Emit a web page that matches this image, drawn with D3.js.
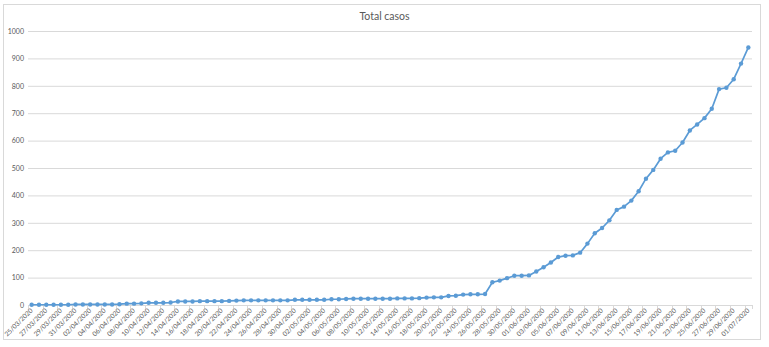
<!DOCTYPE html>
<html>
<head>
<meta charset="utf-8">
<script src="https://cdn.jsdelivr.net/npm/d3@7"></script>
<style>
  html, body { margin: 0; padding: 0; background: #fff; }
  svg { display: block; font-family: Lato, "Open Sans", sans-serif; }
</style>
</head>
<body>
<svg id="chart" width="769" height="347"></svg>
<script>
// Daily dates (dd/mm/yyyy) from 25/03/2020 to 01/07/2020
const fechas = [
  "25/03/2020","26/03/2020","27/03/2020","28/03/2020","29/03/2020","30/03/2020","31/03/2020",
  "01/04/2020","02/04/2020","03/04/2020","04/04/2020","05/04/2020","06/04/2020","07/04/2020","08/04/2020","09/04/2020","10/04/2020",
  "11/04/2020","12/04/2020","13/04/2020","14/04/2020","15/04/2020","16/04/2020","17/04/2020","18/04/2020","19/04/2020","20/04/2020",
  "21/04/2020","22/04/2020","23/04/2020","24/04/2020","25/04/2020","26/04/2020","27/04/2020","28/04/2020","29/04/2020","30/04/2020",
  "01/05/2020","02/05/2020","03/05/2020","04/05/2020","05/05/2020","06/05/2020","07/05/2020","08/05/2020","09/05/2020","10/05/2020",
  "11/05/2020","12/05/2020","13/05/2020","14/05/2020","15/05/2020","16/05/2020","17/05/2020","18/05/2020","19/05/2020","20/05/2020",
  "21/05/2020","22/05/2020","23/05/2020","24/05/2020","25/05/2020","26/05/2020","27/05/2020","28/05/2020","29/05/2020","30/05/2020","31/05/2020",
  "01/06/2020","02/06/2020","03/06/2020","04/06/2020","05/06/2020","06/06/2020","07/06/2020","08/06/2020","09/06/2020","10/06/2020",
  "11/06/2020","12/06/2020","13/06/2020","14/06/2020","15/06/2020","16/06/2020","17/06/2020","18/06/2020","19/06/2020","20/06/2020",
  "21/06/2020","22/06/2020","23/06/2020","24/06/2020","25/06/2020","26/06/2020","27/06/2020","28/06/2020","29/06/2020","30/06/2020",
  "01/07/2020"
];

// Accumulated cases per day
const totalCasos = [
  1,1,1,1,1,1,2,2,2,2,2,2,
  3,5,5,6,8,8,8,9,
  13,13,13,14,14,14,14,15,16,17,17,17,17,
  17,17,17,19,19,19,19,19,21,21,22,23,23,23,23,23,23,24,24,24,25,27,28,28,33,34,38,39,39,40,
  83,89,98,107,107,108,122,138,155,175,180,181,191,224,262,281,309,347,
  359,381,415,461,493,534,557,563,593,637,659,682,716,788,793,824,881,940
];

// Value axis ticks
const yTicks = [0,100,200,300,400,500,600,700,800,900,1000];

const titulo = "Total casos";

const svg = d3.select("#chart");
const W = 769, H = 347;
const plot = { left: 28, right: 752, top: 31, bottom: 305 };

// Outer chart frame
svg.append("rect")
  .attr("x", 3.5).attr("y", 4.5)
  .attr("width", 757).attr("height", 335)
  .attr("fill", "#fff").attr("stroke", "#d9d9d9");

const x = d3.scalePoint().domain(fechas).range([plot.left, plot.right]).padding(0.5);
const xBand = d3.scaleBand().domain(fechas).range([plot.left, plot.right]);
const y = d3.scaleLinear().domain([0, 1000]).range([plot.bottom, plot.top]);

// Horizontal gridlines + value labels
const yAxis = svg.append("g")
  .attr("transform", `translate(${plot.left},0)`)
  .call(d3.axisLeft(y).tickValues(yTicks).tickSize(-(plot.right - plot.left)).tickPadding(4).tickFormat(d3.format("d")));
yAxis.select(".domain").remove();
yAxis.selectAll(".tick line").attr("stroke", "#d9d9d9").attr("stroke-width", 1);
yAxis.selectAll(".tick text")
  .attr("fill", "#595959").attr("font-size", 7)
  .attr("font-family", "Lato, 'Open Sans', sans-serif");

// Category axis: baseline and tick marks every two days
const even = fechas.filter((d, i) => i % 2 === 0);
svg.append("line")
  .attr("x1", plot.left).attr("x2", plot.right)
  .attr("y1", plot.bottom + 0.5).attr("y2", plot.bottom + 0.5)
  .attr("stroke", "#d9d9d9");
const tickPos = even.map(d => xBand(d)).concat([plot.right]);
svg.append("g").selectAll("line").data(tickPos).join("line")
  .attr("x1", d => Math.round(d) + 0.5).attr("x2", d => Math.round(d) + 0.5)
  .attr("y1", plot.bottom).attr("y2", plot.bottom + 4)
  .attr("stroke", "#d9d9d9");

const xAxis = svg.append("g")
  .attr("transform", `translate(0,${plot.bottom})`)
  .call(d3.axisBottom(x).tickValues(even).tickSize(0).tickPadding(0));
xAxis.select(".domain").remove();
xAxis.selectAll(".tick text")
  .attr("fill", "#595959").attr("font-size", 6.6)
  .attr("font-family", "Lato, 'Open Sans', sans-serif")
  .attr("text-anchor", "end")
  .attr("dy", 0)
  .attr("transform", "translate(1,6) rotate(-45)");

// Series line and markers
const pts = fechas.map((d, i) => ({ d, v: totalCasos[i] }));
svg.append("path")
  .datum(pts)
  .attr("fill", "none")
  .attr("stroke", "#5b9bd5")
  .attr("stroke-width", 1.7)
  .attr("stroke-linejoin", "round")
  .attr("d", d3.line().x(p => x(p.d)).y(p => y(p.v)));
svg.append("g").selectAll("circle").data(pts).join("circle")
  .attr("cx", p => x(p.d)).attr("cy", p => y(p.v))
  .attr("r", 2.2)
  .attr("fill", "#5b9bd5");

// Title
svg.append("text")
  .attr("x", (W) / 2).attr("y", 20)
  .attr("text-anchor", "middle")
  .attr("fill", "#595959")
  .attr("font-size", 10.5)
  .text(titulo);
</script>
</body>
</html>
